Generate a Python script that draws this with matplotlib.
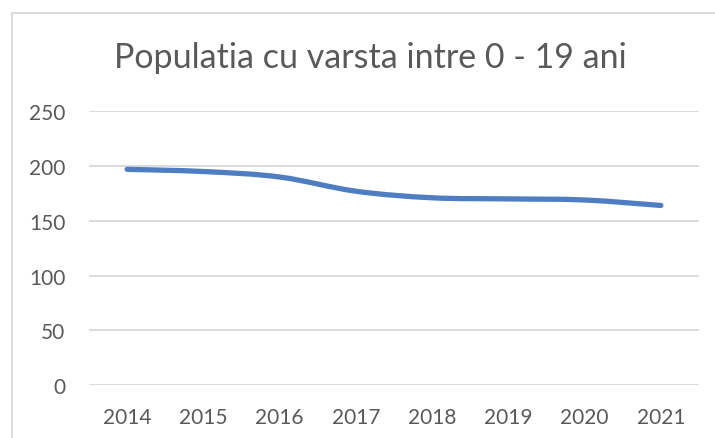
import numpy as np
import matplotlib
matplotlib.use('Agg')
import matplotlib.pyplot as plt
from matplotlib.path import Path
from matplotlib.patches import PathPatch
from matplotlib.lines import Line2D

# datos
anios = ['2014', '2015', '2016', '2017', '2018', '2019', '2020', '2021']
poblacion = [197, 195, 190, 177, 171, 170, 169, 164]
ticks_y = [0, 50, 100, 150, 200, 250]
titulo = 'Populatia cu varsta intre 0 - 19 ani'

gris_texto = '#595959'
gris_linea = '#D9D9D9'
azul = '#4E7EC1'

plt.rcParams['font.family'] = ['Lato', 'DejaVu Sans']

fig = plt.figure(figsize=(7.15, 4.39), dpi=100)
ax = fig.add_axes([89 / 715, 53 / 439, 610 / 715, 273.7 / 439])

x = np.arange(len(anios))
y = np.array(poblacion, dtype=float)

# linea suavizada estilo Excel (curvas bezier a partir de los puntos)
verts = [(x[0], y[0])]
codes = [Path.MOVETO]
t = 1 / 6
for i in range(len(x) - 1):
    p0 = (x[max(i - 1, 0)], y[max(i - 1, 0)])
    p1 = (x[i], y[i])
    p2 = (x[i + 1], y[i + 1])
    p3 = (x[min(i + 2, len(x) - 1)], y[min(i + 2, len(x) - 1)])
    c1 = (p1[0] + (p2[0] - p0[0]) * t, p1[1] + (p2[1] - p0[1]) * t)
    c2 = (p2[0] - (p3[0] - p1[0]) * t, p2[1] - (p3[1] - p1[1]) * t)
    verts += [c1, c2, p2]
    codes += [Path.CURVE4] * 3
ax.add_patch(PathPatch(Path(verts, codes), fill=False, edgecolor=azul,
                       lw=3.8, capstyle='round', joinstyle='round', zorder=3))

ax.set_xlim(-0.5, len(anios) - 0.5)
ax.set_ylim(0, 250)
ax.set_yticks(ticks_y)
ax.set_xticks(x)
ax.set_xticklabels(anios)
ax.grid(axis='y', color=gris_linea, lw=1.3)
ax.set_axisbelow(True)
for s in ax.spines.values():
    s.set_visible(False)
ax.tick_params(axis='both', length=0, labelsize=15, labelcolor=gris_texto)
ax.tick_params(axis='y', pad=17)
ax.tick_params(axis='x', pad=16)

fig.text(370 / 715, 1 - 68 / 439, titulo, ha='center', va='baseline',
         fontsize=24.5, color=gris_texto)

# borde del area del grafico
fig.add_artist(Line2D([12 / 715, 12 / 715], [0, 1 - 14 / 439],
                      color=gris_linea, lw=1.3, transform=fig.transFigure))
fig.add_artist(Line2D([12 / 715, 1], [1 - 14 / 439, 1 - 14 / 439],
                      color=gris_linea, lw=1.3, transform=fig.transFigure))

fig.savefig('out.png', dpi=100)
